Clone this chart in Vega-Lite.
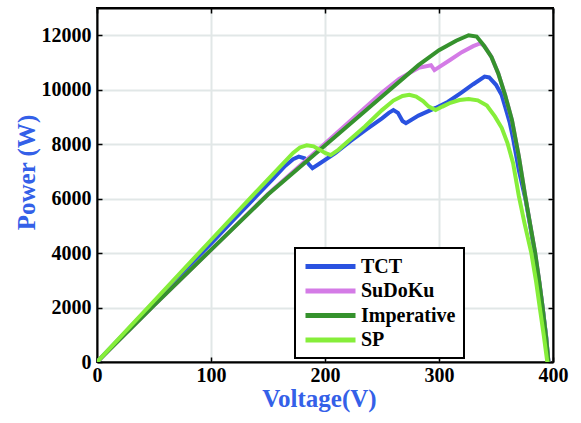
{
  "$schema": "https://vega.github.io/schema/vega-lite/v6.json",
  "width": 456,
  "height": 354,
  "autosize": {"type": "none"},
  "padding": {"left": 97, "top": 8, "right": 28, "bottom": 61},
  "background": "white",
  "config": {
    "view": {"stroke": "black", "strokeWidth": 2},
    "font": "'Liberation Serif', 'Times New Roman', 'DejaVu Serif', serif"
  },
  "datasets": {
    "pv": [
      {"s": "TCT", "v": 0, "p": 0}, {"s": "TCT", "v": 20, "p": 880}, {"s": "TCT", "v": 50, "p": 2200}, {"s": "TCT", "v": 80, "p": 3500},
      {"s": "TCT", "v": 100, "p": 4350}, {"s": "TCT", "v": 120, "p": 5230}, {"s": "TCT", "v": 140, "p": 6100}, {"s": "TCT", "v": 155, "p": 6750},
      {"s": "TCT", "v": 165, "p": 7200}, {"s": "TCT", "v": 172, "p": 7450}, {"s": "TCT", "v": 177, "p": 7540}, {"s": "TCT", "v": 182, "p": 7480},
      {"s": "TCT", "v": 186, "p": 7250}, {"s": "TCT", "v": 189, "p": 7120}, {"s": "TCT", "v": 195, "p": 7280}, {"s": "TCT", "v": 209, "p": 7670},
      {"s": "TCT", "v": 222, "p": 8100}, {"s": "TCT", "v": 236, "p": 8530}, {"s": "TCT", "v": 250, "p": 8950}, {"s": "TCT", "v": 256, "p": 9150},
      {"s": "TCT", "v": 260, "p": 9250}, {"s": "TCT", "v": 264, "p": 9150}, {"s": "TCT", "v": 268, "p": 8850}, {"s": "TCT", "v": 271, "p": 8770},
      {"s": "TCT", "v": 282, "p": 9050}, {"s": "TCT", "v": 297, "p": 9330}, {"s": "TCT", "v": 308, "p": 9560}, {"s": "TCT", "v": 320, "p": 9900},
      {"s": "TCT", "v": 330, "p": 10200}, {"s": "TCT", "v": 340, "p": 10480}, {"s": "TCT", "v": 344, "p": 10450}, {"s": "TCT", "v": 350, "p": 10180},
      {"s": "TCT", "v": 355, "p": 9800}, {"s": "TCT", "v": 358, "p": 9380}, {"s": "TCT", "v": 362, "p": 8800}, {"s": "TCT", "v": 365, "p": 8200},
      {"s": "TCT", "v": 370, "p": 7050}, {"s": "TCT", "v": 376, "p": 5950}, {"s": "TCT", "v": 380, "p": 5000}, {"s": "TCT", "v": 384, "p": 4000},
      {"s": "TCT", "v": 388, "p": 2900}, {"s": "TCT", "v": 391, "p": 1970}, {"s": "TCT", "v": 394, "p": 950}, {"s": "TCT", "v": 396, "p": 0},

      {"s": "SuDoKu", "v": 0, "p": 0}, {"s": "SuDoKu", "v": 50, "p": 2080}, {"s": "SuDoKu", "v": 100, "p": 4120}, {"s": "SuDoKu", "v": 150, "p": 6170},
      {"s": "SuDoKu", "v": 200, "p": 8020}, {"s": "SuDoKu", "v": 250, "p": 9900}, {"s": "SuDoKu", "v": 265, "p": 10400}, {"s": "SuDoKu", "v": 282, "p": 10800},
      {"s": "SuDoKu", "v": 293, "p": 10900}, {"s": "SuDoKu", "v": 296, "p": 10720}, {"s": "SuDoKu", "v": 310, "p": 11100}, {"s": "SuDoKu", "v": 320, "p": 11380},
      {"s": "SuDoKu", "v": 330, "p": 11600}, {"s": "SuDoKu", "v": 336, "p": 11700}, {"s": "SuDoKu", "v": 340, "p": 11600}, {"s": "SuDoKu", "v": 344, "p": 11340},
      {"s": "SuDoKu", "v": 346, "p": 11200}, {"s": "SuDoKu", "v": 352, "p": 10600}, {"s": "SuDoKu", "v": 358, "p": 9800}, {"s": "SuDoKu", "v": 364, "p": 8880},
      {"s": "SuDoKu", "v": 370, "p": 7550}, {"s": "SuDoKu", "v": 375.6, "p": 6100}, {"s": "SuDoKu", "v": 380, "p": 5050}, {"s": "SuDoKu", "v": 384.4, "p": 4000},
      {"s": "SuDoKu", "v": 388, "p": 2950}, {"s": "SuDoKu", "v": 391, "p": 1970}, {"s": "SuDoKu", "v": 394, "p": 900}, {"s": "SuDoKu", "v": 396, "p": 0},

      {"s": "Imperative", "v": 0, "p": 0}, {"s": "Imperative", "v": 50, "p": 2080}, {"s": "Imperative", "v": 100, "p": 4120}, {"s": "Imperative", "v": 150, "p": 6150},
      {"s": "Imperative", "v": 200, "p": 7950}, {"s": "Imperative", "v": 250, "p": 9750}, {"s": "Imperative", "v": 267, "p": 10360}, {"s": "Imperative", "v": 282, "p": 10900},
      {"s": "Imperative", "v": 300, "p": 11450}, {"s": "Imperative", "v": 315, "p": 11800}, {"s": "Imperative", "v": 326, "p": 12000}, {"s": "Imperative", "v": 333, "p": 11950},
      {"s": "Imperative", "v": 339, "p": 11640}, {"s": "Imperative", "v": 346, "p": 11200}, {"s": "Imperative", "v": 352, "p": 10600}, {"s": "Imperative", "v": 358, "p": 9800},
      {"s": "Imperative", "v": 364, "p": 8880}, {"s": "Imperative", "v": 370, "p": 7550}, {"s": "Imperative", "v": 375.6, "p": 6100}, {"s": "Imperative", "v": 380, "p": 5050},
      {"s": "Imperative", "v": 384.4, "p": 4000}, {"s": "Imperative", "v": 388, "p": 2950}, {"s": "Imperative", "v": 391, "p": 1970}, {"s": "Imperative", "v": 394, "p": 900},
      {"s": "Imperative", "v": 396, "p": 0},

      {"s": "SP", "v": 0, "p": 0}, {"s": "SP", "v": 50, "p": 2240}, {"s": "SP", "v": 100, "p": 4480}, {"s": "SP", "v": 134, "p": 6000},
      {"s": "SP", "v": 155, "p": 6930}, {"s": "SP", "v": 165, "p": 7370}, {"s": "SP", "v": 172, "p": 7680}, {"s": "SP", "v": 178, "p": 7880},
      {"s": "SP", "v": 184, "p": 7960}, {"s": "SP", "v": 190, "p": 7920}, {"s": "SP", "v": 196, "p": 7780}, {"s": "SP", "v": 200, "p": 7680},
      {"s": "SP", "v": 205, "p": 7600}, {"s": "SP", "v": 212, "p": 7800}, {"s": "SP", "v": 220, "p": 8100}, {"s": "SP", "v": 235, "p": 8650},
      {"s": "SP", "v": 250, "p": 9250}, {"s": "SP", "v": 260, "p": 9600}, {"s": "SP", "v": 268, "p": 9770}, {"s": "SP", "v": 274, "p": 9810},
      {"s": "SP", "v": 280, "p": 9750}, {"s": "SP", "v": 286, "p": 9580}, {"s": "SP", "v": 291, "p": 9380}, {"s": "SP", "v": 297, "p": 9250},
      {"s": "SP", "v": 303, "p": 9380}, {"s": "SP", "v": 310, "p": 9520}, {"s": "SP", "v": 318, "p": 9620}, {"s": "SP", "v": 326, "p": 9660},
      {"s": "SP", "v": 334, "p": 9610}, {"s": "SP", "v": 342, "p": 9420}, {"s": "SP", "v": 349, "p": 9020}, {"s": "SP", "v": 355, "p": 8600},
      {"s": "SP", "v": 360, "p": 8050}, {"s": "SP", "v": 365, "p": 7300}, {"s": "SP", "v": 370, "p": 6100}, {"s": "SP", "v": 375, "p": 5100},
      {"s": "SP", "v": 381, "p": 4000}, {"s": "SP", "v": 385, "p": 3000}, {"s": "SP", "v": 388.5, "p": 1970}, {"s": "SP", "v": 392, "p": 950},
      {"s": "SP", "v": 395, "p": 0}
    ]
  },
  "data": {"name": "pv"},
  "layer": [
    {
      "mark": {"type": "line", "strokeWidth": 4, "clip": true},
      "encoding": {
        "x": {
          "field": "v", "type": "quantitative",
          "scale": {"domain": [0, 400], "nice": false},
          "axis": {
            "values": [0, 100, 200, 300, 400], "format": "d", "labelFlush": false,
            "title": "Voltage(V)",
            "labelFont": "'Liberation Serif', 'Times New Roman', 'DejaVu Serif', serif", "labelFontWeight": "bold", "labelFontSize": 20, "labelColor": "black",
            "labelPadding": 8,
            "tickSize": -5, "tickColor": "black", "tickWidth": 1.5,
            "domainColor": "black", "domainWidth": 2,
            "grid": true, "gridColor": "#e1e7e7", "gridWidth": 2,
            "titleFont": "'Liberation Serif', 'Times New Roman', 'DejaVu Serif', serif", "titleFontWeight": "bold", "titleFontSize": 25, "titleColor": "#3460e8",
            "titleX": 222, "titleY": 36, "titleBaseline": "middle", "titleAlign": "center"
          }
        },
        "y": {
          "field": "p", "type": "quantitative",
          "scale": {"domain": [0, 13000], "nice": false},
          "axis": {
            "values": [0, 2000, 4000, 6000, 8000, 10000, 12000], "format": "d", "labelFlush": false,
            "title": "Power (W)",
            "labelFont": "'Liberation Serif', 'Times New Roman', 'DejaVu Serif', serif", "labelFontWeight": "bold", "labelFontSize": 20, "labelColor": "black",
            "labelPadding": 11,
            "tickSize": -5, "tickColor": "black", "tickWidth": 1.5,
            "domainColor": "black", "domainWidth": 2,
            "grid": true, "gridColor": "#e1e7e7", "gridWidth": 2,
            "titleFont": "'Liberation Serif', 'Times New Roman', 'DejaVu Serif', serif", "titleFontWeight": "bold", "titleFontSize": 25, "titleColor": "#3460e8",
            "titleX": -71, "titleY": 164, "titleAngle": 270, "titleBaseline": "middle", "titleAlign": "center"
          }
        },
        "color": {
          "field": "s", "type": "nominal",
          "scale": {"domain": ["TCT", "SuDoKu", "Imperative", "SP"], "range": ["#2a52e0", "#d47be6", "#35922d", "#86ee3a"]},
          "legend": {
            "title": null,
            "orient": "none", "legendX": 198, "legendY": 240,
            "fillColor": "white", "strokeColor": "black",
            "padding": 8,
            "symbolType": "M-1,0H5.25", "symbolSize": 256, "symbolStrokeWidth": 5,
            "labelOffset": 37,
            "labelFont": "'Liberation Serif', 'Times New Roman', 'DejaVu Serif', serif", "labelFontWeight": "bold", "labelFontSize": 20, "labelColor": "black",
            "rowPadding": 3.5,
            "encode": {"legend": {"update": {"strokeWidth": {"value": 2}}}}
          }
        }
      }
    },
    {
      "mark": {"type": "line", "opacity": 0},
      "encoding": {
        "x": {
          "field": "v", "type": "quantitative",
          "scale": {"domain": [0, 400], "nice": false},
          "axis": {"orient": "top", "values": [0, 100, 200, 300, 400], "labels": false, "title": null, "grid": false,
                   "tickSize": -5, "tickColor": "black", "tickWidth": 1.5, "domainColor": "black", "domainWidth": 2}
        },
        "y": {
          "field": "p", "type": "quantitative",
          "scale": {"domain": [0, 13000], "nice": false},
          "axis": {"orient": "right", "values": [0, 2000, 4000, 6000, 8000, 10000, 12000], "labels": false, "title": null, "grid": false,
                   "tickSize": -5, "tickColor": "black", "tickWidth": 1.5, "domainColor": "black", "domainWidth": 2}
        },
        "detail": {"field": "s", "type": "nominal"}
      }
    }
  ],
  "resolve": {"axis": {"x": "independent", "y": "independent"}}
}
